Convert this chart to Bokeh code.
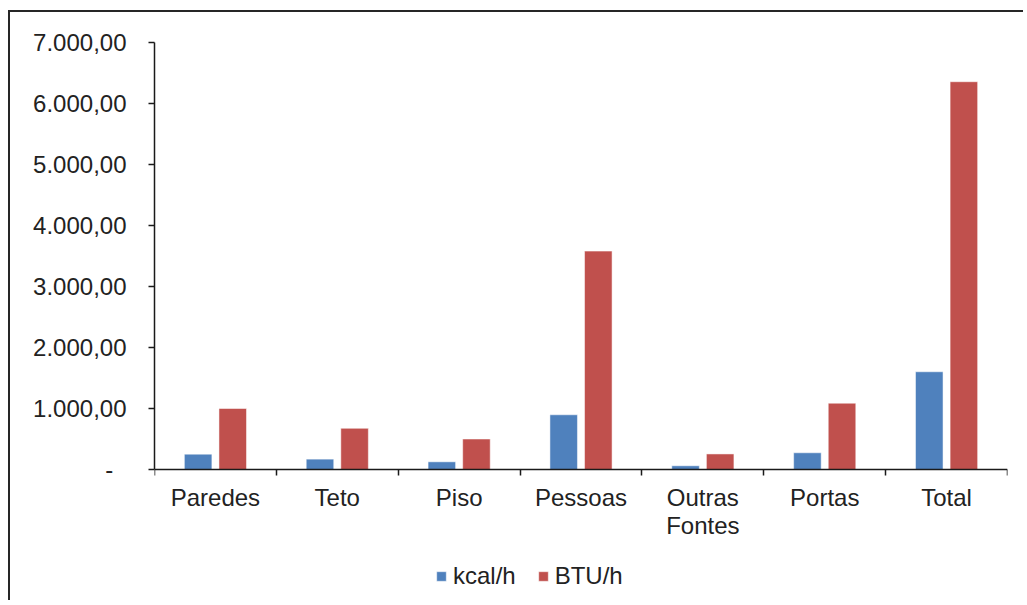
from bokeh.plotting import figure
from bokeh.models import ColumnDataSource, Range1d, FixedTicker, Legend, LegendItem
from bokeh.embed import file_html
from bokeh.resources import INLINE

# ---- data ----
categories = ["Paredes", "Teto", "Piso", "Pessoas", "Outras\nFontes", "Portas", "Total"]
kcal_h = [252, 170, 126, 897, 61, 274, 1602]
btu_h = [1000, 675, 500, 3580, 255, 1087, 6357]
y_ticks = [0, 1000, 2000, 3000, 4000, 5000, 6000, 7000]
y_tick_labels = ["-\u00a0\u00a0", "1.000,00", "2.000,00", "3.000,00", "4.000,00",
                 "5.000,00", "6.000,00", "7.000,00"]
series_names = ["kcal/h", "BTU/h"]
colors = ["#4F81BD", "#C0504D"]

FONT = "Liberation Sans"
FSIZE = "24px"
TXT = "#222222"

n = len(categories)
centers = [i + 0.5 for i in range(n)]
off = 0.142
bw = 0.226

# frame geometry: 61 px per 1000 units, frame extends below zero to hold the legend
W, H = 1015, 590
TOP, BOTTOM = 30, 10
px_per_unit = 427.0 / 7000.0
frame_h = H - TOP - BOTTOM
y_max = 7000
y_min = y_max - frame_h / px_per_unit

src = ColumnDataSource(dict(
    xk=[c - off for c in centers],
    xb=[c + off for c in centers],
    kcal=kcal_h,
    btu=btu_h,
))

p = figure(width=W, height=H, output_backend="svg", toolbar_location=None,
           x_range=Range1d(0, n), y_range=Range1d(y_min, y_max),
           min_border_left=144, min_border_right=18, min_border_top=TOP, min_border_bottom=BOTTOM)
p.styles = {"border-top": "2px solid #262626", "border-left": "2px solid #262626",
            "margin-top": "10px", "margin-left": "8px"}

p.outline_line_color = None
p.xgrid.grid_line_color = None
p.ygrid.grid_line_color = None
p.background_fill_color = "white"
p.border_fill_color = "white"

r1 = p.vbar(x="xk", top="kcal", width=bw, bottom=0, source=src, fill_color=colors[0],
            line_color="white", line_alpha=0.5, line_width=1)
r2 = p.vbar(x="xb", top="btu", width=bw, bottom=0, source=src, fill_color=colors[1],
            line_color="white", line_alpha=0.5, line_width=1)

# y axis
ya = p.yaxis[0]
ya.ticker = FixedTicker(ticks=y_ticks, minor_ticks=[])
ya.bounds = (0, y_max)
ya.major_label_overrides = {t: l for t, l in zip(y_ticks, y_tick_labels)}
ya.major_tick_out = 6
ya.major_tick_in = 0
ya.minor_tick_out = 0
ya.minor_tick_in = 0
ya.axis_line_color = "#1a1a1a"
ya.axis_line_width = 1.5
ya.major_tick_line_color = "#1a1a1a"
ya.major_tick_line_width = 1.5
ya.major_label_standoff = 22
ya.major_label_text_font = FONT
ya.major_label_text_font_size = FSIZE
ya.major_label_text_color = TXT

# x axis at y = 0: labels at centers, ticks at boundaries (minor ticks)
xa = p.xaxis[0]
xa.fixed_location = 0
xa.ticker = FixedTicker(ticks=centers, minor_ticks=list(range(n + 1)))
xa.major_label_overrides = {c: l for c, l in zip(centers, categories)}
xa.major_tick_out = 0
xa.major_tick_in = 0
xa.minor_tick_out = 6
xa.minor_tick_in = 0
xa.minor_tick_line_color = "#1a1a1a"
xa.minor_tick_line_width = 1.5
xa.axis_line_color = "#1a1a1a"
xa.axis_line_width = 1.5
xa.major_label_standoff = 8
xa.major_label_text_font = FONT
xa.major_label_text_font_size = FSIZE
xa.major_label_text_color = TXT
xa.major_label_text_line_height = 1.05
xa.major_label_orientation = "horizontal"

legend = Legend(items=[LegendItem(label=series_names[0], renderers=[r1]),
                       LegendItem(label=series_names[1], renderers=[r2])],
                location=(281, 2), orientation="horizontal",
                glyph_width=12, glyph_height=12, label_standoff=6, spacing=21,
                padding=0, margin=0, border_line_color=None, background_fill_alpha=0,
                label_text_font=FONT, label_text_font_size=FSIZE, label_text_color=TXT)
p.add_layout(legend, "center")

open("out.html", "w").write(file_html(p, INLINE))
